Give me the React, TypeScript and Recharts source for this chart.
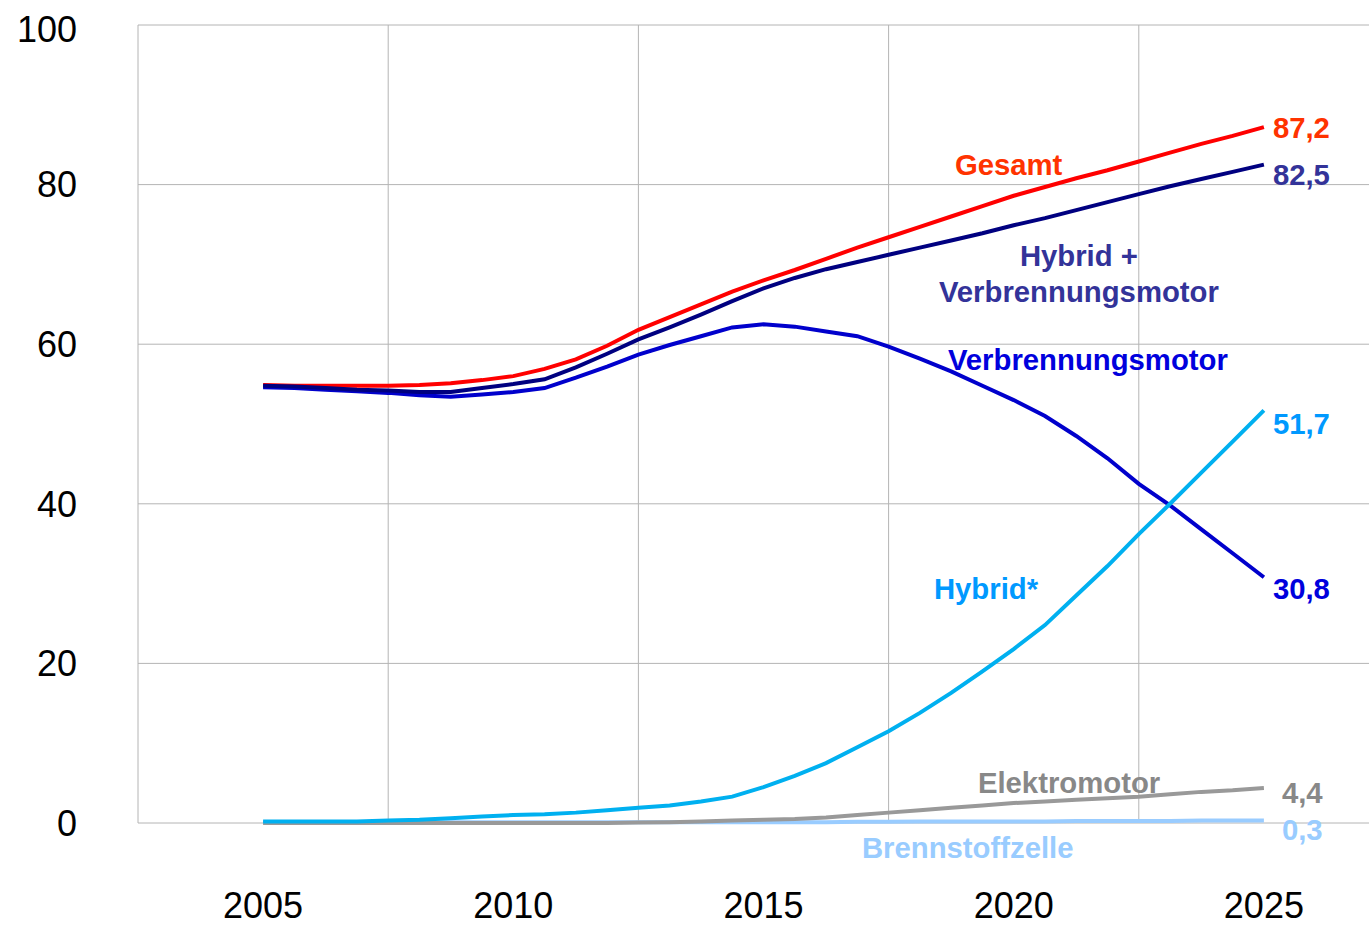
import React from 'react';
import { LineChart, Line, XAxis, YAxis, CartesianGrid } from 'recharts';

const years = [2005, 2005.625, 2006.25, 2006.875, 2007.5, 2008.125, 2008.75, 2009.375, 2010, 2010.625, 2011.25, 2011.875, 2012.5, 2013.125, 2013.75, 2014.375, 2015, 2015.625, 2016.25, 2016.875, 2017.5, 2018.125, 2018.75, 2019.375, 2020, 2020.625, 2021.25, 2021.875, 2022.5, 2023.125, 2023.75, 2024.375, 2025];
const gesamt = [54.9, 54.8, 54.8, 54.8, 54.8, 54.9, 55.1, 55.5, 56.0, 56.9, 58.1, 59.8, 61.8, 63.4, 65.0, 66.6, 68.0, 69.3, 70.7, 72.1, 73.4, 74.7, 76.0, 77.3, 78.6, 79.7, 80.8, 81.8, 82.9, 84.0, 85.1, 86.1, 87.2];
const hybridVerbrenner = [54.8, 54.7, 54.5, 54.3, 54.2, 54.0, 54.0, 54.5, 55.0, 55.6, 57.1, 58.8, 60.6, 62.1, 63.7, 65.4, 67.0, 68.3, 69.4, 70.3, 71.2, 72.1, 73.0, 73.9, 74.9, 75.8, 76.8, 77.8, 78.8, 79.8, 80.7, 81.6, 82.5];
const verbrenner = [54.6, 54.5, 54.3, 54.1, 53.9, 53.6, 53.4, 53.7, 54.0, 54.5, 55.8, 57.2, 58.7, 59.9, 61.0, 62.1, 62.5, 62.2, 61.6, 61.0, 59.7, 58.2, 56.6, 54.8, 53.0, 51.0, 48.5, 45.7, 42.5, 39.8, 36.8, 33.8, 30.8];
const hybrid = [0.2, 0.2, 0.2, 0.2, 0.3, 0.4, 0.6, 0.8, 1.0, 1.1, 1.3, 1.6, 1.9, 2.2, 2.7, 3.3, 4.5, 5.9, 7.5, 9.5, 11.5, 13.8, 16.3, 19.0, 21.8, 24.8, 28.5, 32.2, 36.2, 40.0, 43.9, 47.8, 51.7];
const elektro = [0, 0, 0, 0, 0, 0, 0, 0, 0, 0, 0, 0, 0.05, 0.1, 0.2, 0.3, 0.4, 0.5, 0.7, 1.0, 1.3, 1.6, 1.9, 2.2, 2.5, 2.7, 2.9, 3.1, 3.3, 3.6, 3.9, 4.1, 4.4];
const brennstoff = [0.1, 0.1, 0.1, 0.1, 0.1, 0.1, 0.1, 0.1, 0.1, 0.1, 0.1, 0.1, 0.1, 0.1, 0.1, 0.1, 0.1, 0.1, 0.1, 0.15, 0.15, 0.2, 0.2, 0.2, 0.2, 0.2, 0.25, 0.25, 0.25, 0.25, 0.3, 0.3, 0.3];

const xTicks = [2005, 2010, 2015, 2020, 2025];
const gridYears = [2002.5, 2007.5, 2012.5, 2017.5, 2022.5, 2027.5];
const yTicks = [0, 20, 40, 60, 80, 100];

const data = years.map((year, i) => ({
  year,
  gesamt: gesamt[i],
  hybridVerbrenner: hybridVerbrenner[i],
  verbrenner: verbrenner[i],
  hybrid: hybrid[i],
  elektro: elektro[i],
  brennstoff: brennstoff[i],
}));

const LAST = years.length - 1;
const FONT = '"Liberation Sans", Arial, sans-serif';

type NameLine = { text: string; dx: number; dy: number; anchor: string };
type LabelCfg = { color: string; valueDx: number; valueDy: number; names: NameLine[] };

const makeLabel = (cfg: LabelCfg) => (props: any) => {
  const { x, y, index, value } = props;
  if (index !== LAST) return null;
  return (
    <g style={{ fontFamily: FONT, fontWeight: 'bold', fontSize: 29.3 }} fill={cfg.color}>
      <text x={x + cfg.valueDx} y={y + cfg.valueDy} dy="0.35em" textAnchor="start" fill={cfg.color}>
        {String(value).replace('.', ',')}
      </text>
      {cfg.names.map((n, k) => (
        <text key={k} x={x + n.dx} y={y + n.dy} dy="0.35em" textAnchor={n.anchor as any} fill={cfg.color}>
          {n.text}
        </text>
      ))}
    </g>
  );
};

export default function App() {
  return (
    <div style={{ position: 'absolute', left: 8, top: 8, width: 1361, height: 917, overflow: 'hidden' }}>
      <LineChart width={1381} height={917} data={data} margin={{ top: 17, right: 0, bottom: 2, left: 0 }}>
        <XAxis xAxisId="grid" dataKey="year" type="number" domain={[2002.5, 2027.5]} ticks={gridYears} hide />
        <CartesianGrid xAxisId="grid" stroke="#b4b4b4" strokeWidth={1} />
        <XAxis
          dataKey="year"
          type="number"
          domain={[2002.5, 2027.5]}
          ticks={xTicks}
          axisLine={false}
          tickLine={false}
          tickSize={0}
          tickMargin={69}
          height={100}
          tick={{ fill: '#000', fontSize: 36, fontFamily: FONT }}
        />
        <YAxis
          type="number"
          domain={[0, 100]}
          ticks={yTicks}
          axisLine={false}
          tickLine={false}
          tickSize={0}
          tickMargin={61}
          width={130}
          tick={{ fill: '#000', fontSize: 36, fontFamily: FONT }}
        />
        <Line dataKey="brennstoff" stroke="#99ccff" strokeWidth={4} dot={false} isAnimationActive={false}
          label={makeLabel({ color: '#99ccff', valueDx: 18, valueDy: 9, names: [{ text: 'Brennstoffzelle', dx: -402, dy: 27, anchor: 'start' }] })} />
        <Line dataKey="elektro" stroke="#999999" strokeWidth={4} dot={false} isAnimationActive={false}
          label={makeLabel({ color: '#888888', valueDx: 18, valueDy: 5, names: [{ text: 'Elektromotor', dx: -286, dy: -5, anchor: 'start' }] })} />
        <Line dataKey="gesamt" stroke="#ff0000" strokeWidth={4} dot={false} isAnimationActive={false}
          label={makeLabel({ color: '#ff3300', valueDx: 9, valueDy: 1, names: [{ text: 'Gesamt', dx: -309, dy: 38, anchor: 'start' }] })} />
        <Line dataKey="verbrenner" stroke="#0000cc" strokeWidth={4} dot={false} isAnimationActive={false}
          label={makeLabel({ color: '#0000dd', valueDx: 9, valueDy: 12, names: [{ text: 'Verbrennungsmotor', dx: -316, dy: -217, anchor: 'start' }] })} />
        <Line dataKey="hybridVerbrenner" stroke="#000080" strokeWidth={4} dot={false} isAnimationActive={false}
          label={makeLabel({ color: '#333399', valueDx: 9, valueDy: 10, names: [
            { text: 'Hybrid +', dx: -185, dy: 91, anchor: 'middle' },
            { text: 'Verbrennungsmotor', dx: -185, dy: 127, anchor: 'middle' },
          ] })} />
        <Line dataKey="hybrid" stroke="#00b0f0" strokeWidth={4} dot={false} isAnimationActive={false}
          label={makeLabel({ color: '#0099ff', valueDx: 9, valueDy: 13, names: [{ text: 'Hybrid*', dx: -330, dy: 178, anchor: 'start' }] })} />
      </LineChart>
    </div>
  );
}
